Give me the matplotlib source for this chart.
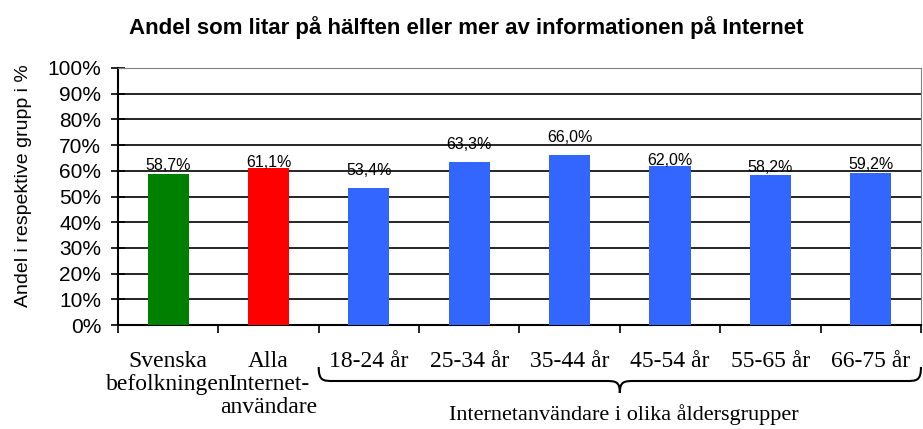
import matplotlib.pyplot as plt
import numpy as np
from matplotlib.path import Path
from matplotlib.patches import PathPatch
from matplotlib.transforms import blended_transform_factory

# data
categories = ["Svenska\nbefolkningen", "Alla\nInternet-\nanvändare",
              "18-24 år", "25-34 år", "35-44 år", "45-54 år", "55-65 år", "66-75 år"]
values = [58.7, 61.1, 53.4, 63.3, 66.0, 62.0, 58.2, 59.2]
value_labels = ["58,7%", "61,1%", "53,4%", "63,3%", "66,0%", "62,0%", "58,2%", "59,2%"]
ytick_labels = ["0%", "10%", "20%", "30%", "40%", "50%", "60%", "70%", "80%", "90%", "100%"]
title = "Andel som litar på hälften eller mer av informationen på Internet"
ylabel = "Andel i respektive grupp i %"
group_label = "Internetanvändare i olika åldersgrupper"

colors = ["#008000", "#ff0000"] + ["#3366ff"] * 6
label_gap_px = [4, 1, 13, 13, 13, 1, 3, 4]   # excel put the labels a bit everywhere

fig = plt.figure(figsize=(9.23, 4.29), dpi=100)
ax = fig.add_axes([0.1278, 0.2424, 0.87, 0.5991])

x = np.arange(len(values))
ax.bar(x, values, width=0.41, color=colors, zorder=3)
ax.set_xlim(-0.5, len(values) - 0.5)
ax.set_ylim(0, 100)

yt = np.arange(0, 101, 10)
ax.set_yticks(yt)
ax.set_yticklabels(ytick_labels, fontsize=15, family="Liberation Sans")
for v in yt[1:]:
    ax.axhline(v, color="black", lw=1.2, zorder=1)

ax.set_xticks(x)
ax.set_xticklabels(categories, fontsize=17, family="Liberation Serif",
                   va="top", linespacing=1.1)
ax.set_xticks(np.arange(-0.5, len(values)), minor=True)
ax.tick_params(axis="x", which="major", length=0, pad=19)
ax.tick_params(axis="x", which="minor", length=6, width=1.2, direction="out")
ax.tick_params(axis="y", length=10, width=1.2, direction="inout", pad=7)

for s in ["left", "bottom"]:
    ax.spines[s].set_linewidth(1.5)
for s in ["top", "right"]:
    ax.spines[s].set_color("#808080")

for xi, v, lab, gap in zip(x, values, value_labels, label_gap_px):
    ax.annotate(lab, (xi, v), xytext=(0, gap * 0.72), textcoords="offset points",
                ha="center", va="baseline", fontsize=11.5, family="Liberation Sans")

fig.text(0.505, 0.935, title, ha="center", va="center", fontsize=16,
         fontweight="bold", family="Liberation Sans")
fig.text(24 / 923, 1 - 186 / 429, ylabel, rotation=90, ha="center", va="center",
         fontsize=14, family="Liberation Sans")

# brace under the age groups
tr = blended_transform_factory(ax.transData, fig.transFigure)
x0, x1, xm = 1.5, 7.5, 4.5
ya, yb, yc = 1 - 367 / 429, 1 - 381 / 429, 1 - 393 / 429
d = 0.15
verts = [(x0, ya), (x0, yb), (x0 + d * 0.3, yb), (x0 + d, yb),
         (xm - d, yb),
         (xm - d * 0.3, yb), (xm, yb), (xm, yc),
         (xm, yb), (xm + d * 0.3, yb), (xm + d, yb),
         (x1 - d, yb),
         (x1 - d * 0.3, yb), (x1, yb), (x1, ya)]
codes = [Path.MOVETO, Path.CURVE4, Path.CURVE4, Path.CURVE4,
         Path.LINETO,
         Path.CURVE4, Path.CURVE4, Path.CURVE4,
         Path.CURVE4, Path.CURVE4, Path.CURVE4,
         Path.LINETO,
         Path.CURVE4, Path.CURVE4, Path.CURVE4]
fig.add_artist(PathPatch(Path(verts, codes), fill=False, lw=1.5, color="black",
                         transform=tr, clip_on=False))
fig.text(0.676, 1 - 415 / 429, group_label, ha="center", va="center",
         fontsize=16, family="Liberation Serif")

fig.savefig("out.png", dpi=100)
